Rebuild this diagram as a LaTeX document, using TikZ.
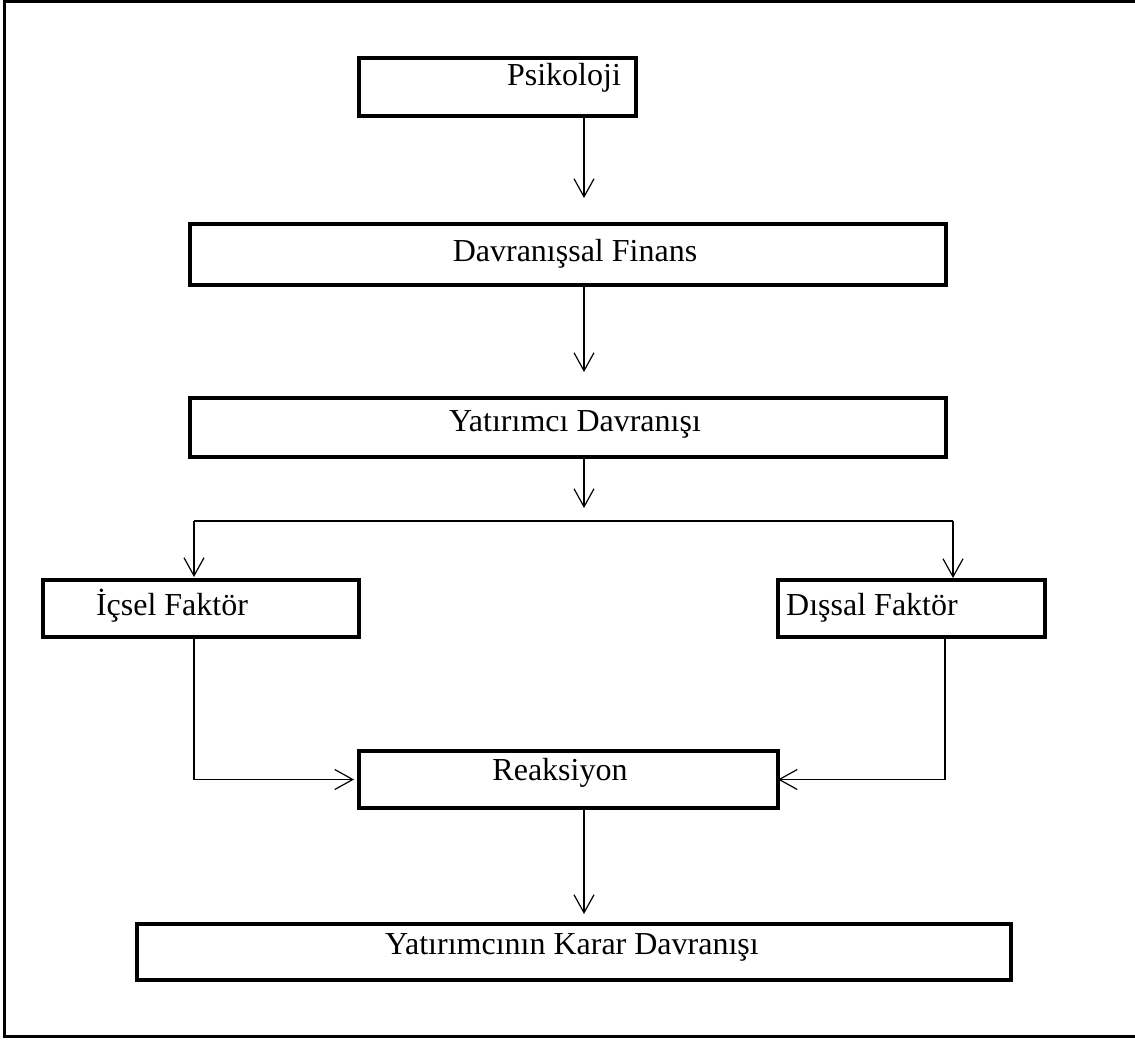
\documentclass[tikz,border=0pt]{standalone}
\usepackage{fontspec}
\setmainfont{Liberation Serif}
\usetikzlibrary{arrows.meta}
\begin{document}
\begin{tikzpicture}[x=0.75pt,y=-0.75pt,
  box/.style={draw, line width=2.5pt, inner sep=0pt, outer sep=0pt, anchor=north west},
  txt/.style={inner sep=0pt, anchor=base, font=\fontsize{24}{28}\selectfont},
  link/.style={line width=0.9pt},
  arr/.style={link, -{Straight Barb[length=13.5pt,width=15pt,line width=0.9pt]}}]
\useasboundingbox (0,0) rectangle (1135,1041);
% outer frame (right side runs off the page)
\draw[line width=2.5pt] (1145,1) -- (4.5,1) -- (4.5,1036.5) -- (1145,1036.5);

% boxes (sizes in px: 1px = 0.75pt)
\node[box, minimum width=207.75pt, minimum height=43.5pt] (psi)   at (359,58)  {};
\node[box, minimum width=567pt,    minimum height=45.75pt] (fin)  at (190,224) {};
\node[box, minimum width=567pt,    minimum height=44.25pt] (yat)  at (190,398) {};
\node[box, minimum width=237pt,    minimum height=42.75pt] (ics)  at (43,580)  {};
\node[box, minimum width=200.25pt, minimum height=42.75pt] (dis)  at (778,580) {};
\node[box, minimum width=314.25pt, minimum height=42.75pt] (reak) at (359,751) {};
\node[box, minimum width=655.5pt,  minimum height=42pt]    (karar) at (137,924) {};

% box texts
\node[txt] (psi-t)   at (564,86)  {Psikoloji};
\node[txt] (fin-t)   at (575,262) {Davranışsal Finans};
\node[txt] (yat-t)   at (575,431) {Yatırımcı Davranışı};
\node[txt] (ics-t)   at (172,615) {İçsel Faktör};
\node[txt] (dis-t)   at (872,615) {Dışsal Faktör};
\node[txt] (reak-t)  at (560,780) {Reaksiyon};
\node[txt] (karar-t) at (572,954) {Yatırımcının Karar Davranışı};

% guide coordinates
\coordinate (spine) at (584,0);
\coordinate (split) at (584,521);
\coordinate (bl) at (194,521);
\coordinate (br) at (953,521);
\coordinate (ll) at (194,0);
\coordinate (rl) at (945,0);

% connectors
\draw[arr, shorten >=19.5pt] (psi.south -| spine) -- (fin.north -| spine);
\draw[arr, shorten >=19.5pt] (fin.south -| spine) -- (yat.north -| spine);
\draw[arr, shorten >=9.75pt] (yat.south -| spine) -- (split);
\draw[link] (bl) -- (br);
\draw[arr, shorten >=2.25pt] (bl) -- (ics.north -| bl);
\draw[arr, shorten >=1.5pt] (br) -- (dis.north -| br);
\draw[arr, shorten >=3.75pt] (ics.south -| ll) |- (reak.west);
\draw[arr] (dis.south -| rl) |- (reak.east);
\draw[arr, shorten >=7.5pt] (reak.south -| spine) -- (karar.north -| spine);
\end{tikzpicture}
\end{document}
